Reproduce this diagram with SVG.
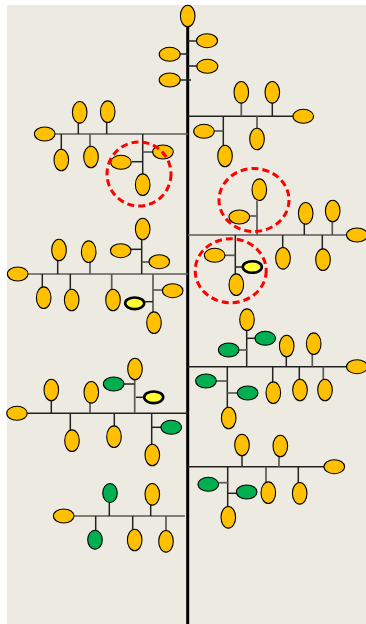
<svg xmlns="http://www.w3.org/2000/svg" width="366" height="624" viewBox="0 0 366 624">
<style>
.bg{fill:#EDEBE1}
.o{fill:#FFC000;stroke:#000;stroke-width:1.1}
.g{fill:#00B050;stroke:#000;stroke-width:1.1}
.y{fill:#FFFF33;stroke:#000;stroke-width:2.6}
.c line,.c path{stroke:#222;stroke-width:1.5;fill:none}
.c .gr{stroke:#5a5a5a;stroke-width:1.7}
.trunk{stroke:#000!important;stroke-width:3!important}
.ring{fill:none;stroke:#FF0000;stroke-width:3;stroke-dasharray:7 4}
</style>
<rect class="bg" x="7" y="5" width="359" height="619"/>
<g id="connectors" class="c">
<line class="trunk" x1="187.7" y1="26" x2="187.7" y2="624"/>
<line x1="188" y1="41" x2="197" y2="41"/>
<line x1="179" y1="54" x2="188" y2="54"/>
<line x1="188" y1="66" x2="197" y2="66"/>
<line x1="179" y1="80" x2="191" y2="80"/>
<line x1="188" y1="116.3" x2="293" y2="116.3"/>
<line class="gr" x1="241.3" y1="116.3" x2="241.3" y2="103"/>
<line x1="272.3" y1="116.3" x2="272.3" y2="103"/>
<line x1="223.3" y1="116.3" x2="223.3" y2="145"/>
<line class="gr" x1="214" y1="131" x2="223.3" y2="131"/>
<line class="gr" x1="257" y1="116.3" x2="257" y2="128"/>
<line class="gr" x1="55" y1="134" x2="188" y2="134"/>
<line x1="78.3" y1="134" x2="78.3" y2="123"/>
<line x1="106.7" y1="134" x2="106.7" y2="123"/>
<line x1="61.3" y1="134" x2="61.3" y2="149"/>
<line class="gr" x1="90" y1="134" x2="90" y2="146"/>
<line x1="142.7" y1="134" x2="142.7" y2="174"/>
<line x1="131.7" y1="161.7" x2="142.7" y2="161.7"/>
<line class="gr" x1="142.7" y1="152" x2="153" y2="152"/>
<line class="gr" x1="188" y1="235" x2="346" y2="235"/>
<line class="gr" x1="257" y1="235" x2="257" y2="200.5"/>
<line class="gr" x1="249" y1="216" x2="257" y2="216"/>
<line x1="304.3" y1="235" x2="304.3" y2="224"/>
<line class="gr" x1="332.3" y1="235" x2="332.3" y2="222"/>
<line x1="282.7" y1="235" x2="282.7" y2="247"/>
<line x1="322.3" y1="235" x2="322.3" y2="249"/>
<line x1="235.3" y1="235" x2="235.3" y2="274"/>
<line class="gr" x1="225" y1="255.3" x2="235.3" y2="255.3"/>
<line x1="235.3" y1="267" x2="243" y2="267"/>
<line class="gr" x1="28" y1="274" x2="188" y2="274"/>
<line x1="57.7" y1="274" x2="57.7" y2="261"/>
<line class="gr" x1="90" y1="274" x2="90" y2="263"/>
<line x1="141.7" y1="274" x2="141.7" y2="218"/>
<line x1="131" y1="249.3" x2="141.7" y2="249.3"/>
<line class="gr" x1="141.7" y1="262" x2="149" y2="262"/>
<line x1="42.3" y1="274" x2="42.3" y2="287"/>
<line x1="70.3" y1="274" x2="70.3" y2="289"/>
<line class="gr" x1="111.7" y1="274" x2="111.7" y2="289"/>
<line class="gr" x1="153" y1="274" x2="153" y2="312"/>
<line class="gr" x1="153" y1="290" x2="162" y2="290"/>
<line x1="145" y1="301.7" x2="153" y2="301.7"/>
<line x1="188" y1="366.7" x2="346" y2="366.7"/>
<line x1="246.7" y1="366.7" x2="246.7" y2="330.5"/>
<line x1="246.7" y1="338.3" x2="255" y2="338.3"/>
<line class="gr" x1="239" y1="350" x2="246.7" y2="350"/>
<line x1="286.3" y1="366.7" x2="286.3" y2="357"/>
<line class="gr" x1="312.3" y1="366.7" x2="312.3" y2="354.5"/>
<line x1="227.3" y1="366.7" x2="227.3" y2="407"/>
<line class="gr" x1="216" y1="381" x2="227.3" y2="381"/>
<line class="gr" x1="227.3" y1="393" x2="237" y2="393"/>
<line x1="272.7" y1="366.7" x2="272.7" y2="382"/>
<line x1="299.3" y1="366.7" x2="299.3" y2="379.5"/>
<line class="gr" x1="323.3" y1="366.7" x2="323.3" y2="379.5"/>
<line x1="27" y1="413.3" x2="188" y2="413.3"/>
<line x1="51.3" y1="413.3" x2="51.3" y2="401"/>
<line class="gr" x1="90" y1="413.3" x2="90" y2="403"/>
<line class="gr" x1="134.7" y1="413.3" x2="134.7" y2="380"/>
<line x1="124" y1="384" x2="134.7" y2="384"/>
<line x1="136" y1="397.3" x2="144" y2="397.3"/>
<line x1="70.3" y1="413.3" x2="70.3" y2="430"/>
<line x1="114.3" y1="413.3" x2="114.3" y2="426"/>
<line x1="151.7" y1="413.3" x2="151.7" y2="444.5"/>
<line x1="151.7" y1="427.3" x2="161" y2="427.3"/>
<line x1="188" y1="466.7" x2="324" y2="466.7"/>
<line x1="242" y1="466.7" x2="242" y2="456"/>
<line class="gr" x1="279" y1="466.7" x2="279" y2="457"/>
<line x1="227.7" y1="466.7" x2="227.7" y2="507"/>
<line class="gr" x1="218" y1="482.7" x2="227.7" y2="482.7"/>
<line x1="227.7" y1="493.3" x2="236.5" y2="493.3"/>
<line class="gr" x1="266" y1="466.7" x2="266" y2="482"/>
<line x1="298.3" y1="466.7" x2="298.3" y2="483"/>
<line class="gr" x1="74" y1="516" x2="185" y2="516"/>
<line x1="109.3" y1="516" x2="109.3" y2="502.5"/>
<line x1="150.7" y1="516" x2="150.7" y2="505"/>
<line x1="95.7" y1="516" x2="95.7" y2="530"/>
<line x1="132.7" y1="516" x2="132.7" y2="529.5"/>
<line class="gr" x1="166" y1="516" x2="166" y2="530.5"/>
</g>
<g id="n-top"><ellipse class="o" cx="187.7" cy="16" rx="7.3" ry="10.8"/></g>
<g id="n-t1"><ellipse class="o" cx="207" cy="40.7" rx="10.5" ry="7"/></g>
<g id="n-t2"><ellipse class="o" cx="169.7" cy="54.3" rx="10.5" ry="7"/></g>
<g id="n-t3"><ellipse class="o" cx="207.3" cy="66.3" rx="10.5" ry="7"/></g>
<g id="n-t4"><ellipse class="o" cx="169.7" cy="80" rx="10.5" ry="7"/></g>
<g id="n-r1-end"><ellipse class="o" cx="303.3" cy="116.3" rx="10.3" ry="7"/></g>
<g id="n-r1-u1"><ellipse class="o" cx="241.3" cy="92.3" rx="7.3" ry="10.8"/></g>
<g id="n-r1-u2"><ellipse class="o" cx="272.3" cy="92.3" rx="7.3" ry="10.8"/></g>
<g id="n-r1-s1"><ellipse class="o" cx="204" cy="131.3" rx="10.3" ry="7"/></g>
<g id="n-r1-s2"><ellipse class="o" cx="225" cy="156" rx="7.3" ry="10.8"/></g>
<g id="n-r1-d1"><ellipse class="o" cx="257" cy="139" rx="7.3" ry="10.8"/></g>
<g id="n-l1-end"><ellipse class="o" cx="44.7" cy="134" rx="10.3" ry="7"/></g>
<g id="n-l1-u1"><ellipse class="o" cx="79.7" cy="112.3" rx="7.3" ry="10.8"/></g>
<g id="n-l1-u2"><ellipse class="o" cx="107.7" cy="111.7" rx="7.3" ry="10.8"/></g>
<g id="n-l1-d1"><ellipse class="o" cx="61.3" cy="160" rx="7.3" ry="10.8"/></g>
<g id="n-l1-d2"><ellipse class="o" cx="91" cy="157" rx="7.3" ry="10.8"/></g>
<g id="n-l1-s1"><ellipse class="o" cx="121" cy="162.3" rx="10.3" ry="7"/></g>
<g id="n-l1-s2"><ellipse class="o" cx="163" cy="152" rx="10.3" ry="7"/></g>
<g id="n-l1-s3"><ellipse class="o" cx="142.7" cy="184.7" rx="7.3" ry="10.8"/></g>
<g id="n-r2-end"><ellipse class="o" cx="357" cy="235" rx="10.5" ry="7"/></g>
<g id="n-r2-s1"><ellipse class="o" cx="259.3" cy="189.7" rx="7.3" ry="10.8"/></g>
<g id="n-r2-s2"><ellipse class="o" cx="239.3" cy="217" rx="10.3" ry="7"/></g>
<g id="n-r2-u1"><ellipse class="o" cx="305.7" cy="213.3" rx="7.3" ry="10.8"/></g>
<g id="n-r2-u2"><ellipse class="o" cx="332.7" cy="211" rx="7.3" ry="10.8"/></g>
<g id="n-r2-d1"><ellipse class="o" cx="283" cy="258.3" rx="7.3" ry="10.8"/></g>
<g id="n-r2-d2"><ellipse class="o" cx="323" cy="259.7" rx="7.3" ry="10.8"/></g>
<g id="n-r2-s3"><ellipse class="o" cx="214.7" cy="255.3" rx="10.3" ry="7"/></g>
<g id="n-r2-s4"><ellipse class="y" cx="252.3" cy="267" rx="9.5" ry="5.8"/></g>
<g id="n-r2-s5"><ellipse class="o" cx="236.3" cy="284.7" rx="7.3" ry="10.8"/></g>
<g id="n-l2-end"><ellipse class="o" cx="17.7" cy="274" rx="10.3" ry="7"/></g>
<g id="n-l2-u1"><ellipse class="o" cx="59" cy="250" rx="7.3" ry="10.8"/></g>
<g id="n-l2-u2"><ellipse class="o" cx="88.7" cy="251.7" rx="7.3" ry="10.8"/></g>
<g id="n-l2-s1"><ellipse class="o" cx="142.7" cy="229" rx="7.3" ry="10.8"/></g>
<g id="n-l2-s2"><ellipse class="o" cx="120.7" cy="250.7" rx="10.3" ry="7"/></g>
<g id="n-l2-s3"><ellipse class="o" cx="159.3" cy="261.7" rx="10.3" ry="7"/></g>
<g id="n-l2-d1"><ellipse class="o" cx="43.7" cy="297.7" rx="7.3" ry="10.8"/></g>
<g id="n-l2-d2"><ellipse class="o" cx="71.7" cy="300" rx="7.3" ry="10.8"/></g>
<g id="n-l2-d3"><ellipse class="o" cx="113" cy="300" rx="7.3" ry="10.8"/></g>
<g id="n-l2-s4"><ellipse class="o" cx="172.7" cy="290.7" rx="10.3" ry="7"/></g>
<g id="n-l2-s5"><ellipse class="y" cx="134.7" cy="303.3" rx="9.5" ry="5.8"/></g>
<g id="n-l2-s6"><ellipse class="o" cx="154" cy="322.7" rx="7.3" ry="10.8"/></g>
<g id="n-r3-end"><ellipse class="o" cx="357" cy="366.7" rx="10.5" ry="7"/></g>
<g id="n-r3-s1"><ellipse class="o" cx="247" cy="319.7" rx="7.3" ry="10.8"/></g>
<g id="n-r3-s2"><ellipse class="g" cx="265.3" cy="338.3" rx="10.3" ry="7"/></g>
<g id="n-r3-s3"><ellipse class="g" cx="228.7" cy="350" rx="10.3" ry="7"/></g>
<g id="n-r3-u1"><ellipse class="o" cx="286.7" cy="346" rx="7.3" ry="10.8"/></g>
<g id="n-r3-u2"><ellipse class="o" cx="313.7" cy="343.7" rx="7.3" ry="10.8"/></g>
<g id="n-r3-s4"><ellipse class="g" cx="206" cy="381" rx="10.3" ry="7"/></g>
<g id="n-r3-s5"><ellipse class="g" cx="247.7" cy="393" rx="10.3" ry="7"/></g>
<g id="n-r3-s6"><ellipse class="o" cx="228.7" cy="418" rx="7.3" ry="10.8"/></g>
<g id="n-r3-d1"><ellipse class="o" cx="273.3" cy="392.7" rx="7.3" ry="10.8"/></g>
<g id="n-r3-d2"><ellipse class="o" cx="300" cy="390" rx="7.3" ry="10.8"/></g>
<g id="n-r3-d3"><ellipse class="o" cx="325" cy="390" rx="7.3" ry="10.8"/></g>
<g id="n-l3-end"><ellipse class="o" cx="17" cy="413.3" rx="10.3" ry="7"/></g>
<g id="n-l3-u1"><ellipse class="o" cx="51.3" cy="390" rx="7.3" ry="10.8"/></g>
<g id="n-l3-u2"><ellipse class="o" cx="91.3" cy="392.3" rx="7.3" ry="10.8"/></g>
<g id="n-l3-s1"><ellipse class="o" cx="135" cy="369" rx="7.3" ry="10.8"/></g>
<g id="n-l3-s2"><ellipse class="g" cx="113.7" cy="384" rx="10.3" ry="7"/></g>
<g id="n-l3-s3"><ellipse class="y" cx="153.7" cy="397.3" rx="9.5" ry="5.8"/></g>
<g id="n-l3-d1"><ellipse class="o" cx="72" cy="440.7" rx="7.3" ry="10.8"/></g>
<g id="n-l3-d2"><ellipse class="o" cx="114" cy="436.7" rx="7.3" ry="10.8"/></g>
<g id="n-l3-s4"><ellipse class="g" cx="171.3" cy="427.3" rx="10.3" ry="7"/></g>
<g id="n-l3-s5"><ellipse class="o" cx="152.3" cy="455" rx="7.3" ry="10.8"/></g>
<g id="n-r4-end"><ellipse class="o" cx="334.3" cy="466.7" rx="10.3" ry="7"/></g>
<g id="n-r4-u1"><ellipse class="o" cx="242" cy="445" rx="7.3" ry="10.8"/></g>
<g id="n-r4-u2"><ellipse class="o" cx="280.3" cy="446" rx="7.3" ry="10.8"/></g>
<g id="n-r4-s1"><ellipse class="g" cx="208.3" cy="484.3" rx="10.3" ry="7"/></g>
<g id="n-r4-s2"><ellipse class="g" cx="246.7" cy="492" rx="10.3" ry="7"/></g>
<g id="n-r4-s3"><ellipse class="o" cx="228.3" cy="517.3" rx="7.3" ry="10.8"/></g>
<g id="n-r4-d1"><ellipse class="o" cx="268.3" cy="492.7" rx="7.3" ry="10.8"/></g>
<g id="n-r4-d2"><ellipse class="o" cx="299.7" cy="493.3" rx="7.3" ry="10.8"/></g>
<g id="n-l4-end"><ellipse class="o" cx="63.7" cy="516" rx="10.3" ry="7"/></g>
<g id="n-l4-u1"><ellipse class="g" cx="110" cy="493" rx="7.3" ry="9.5"/></g>
<g id="n-l4-u2"><ellipse class="o" cx="152.3" cy="494.3" rx="7.3" ry="10.8"/></g>
<g id="n-l4-d1"><ellipse class="g" cx="95" cy="539.7" rx="7.3" ry="9.5"/></g>
<g id="n-l4-d2"><ellipse class="o" cx="134.7" cy="540" rx="7.3" ry="10.8"/></g>
<g id="n-l4-d3"><ellipse class="o" cx="166" cy="541.3" rx="7.3" ry="10.8"/></g>
<g id="rings">
<ellipse class="ring" cx="139" cy="174" rx="32" ry="32"/>
<ellipse class="ring" cx="254" cy="200" rx="35" ry="31.5"/>
<ellipse class="ring" cx="230.7" cy="270.7" rx="35.5" ry="32"/>
</g>
</svg>
